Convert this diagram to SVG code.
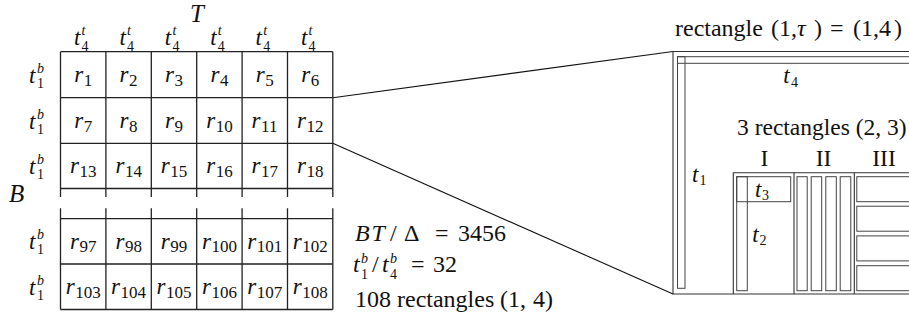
<svg xmlns="http://www.w3.org/2000/svg" width="909" height="320" viewBox="0 0 909 320" font-family="Liberation Serif, serif">
<style>
.f{font-family:"Liberation Serif",serif;fill:#111}
.i{font-style:italic}
.m{font-size:23px}
.s{font-size:14px}
.k{font-size:17px}
.L{font-size:24px}
.c{text-anchor:middle}
.g{fill:none;stroke:#222;stroke-width:1.3}
.p{fill:none;stroke:#333;stroke-width:1.1}
.q{fill:none;stroke:#444;stroke-width:1}
.ln{fill:none;stroke:#111;stroke-width:1.1}
</style>
<rect width="909" height="320" fill="#fff"/>

<g id="grid">
<path class="g" d="M60.5 51.7H332.8M60.5 97.7H332.8M60.5 143.3H332.8M60.5 188.5H332.8M60.5 218.7H332.8M60.5 264H332.8M60.5 309.5H332.8"/>
<path class="g" d="M60.5 51.7V197M105.9 51.7V197M151.3 51.7V197M196.7 51.7V197M242.1 51.7V197M287.5 51.7V197M332.8 51.7V197"/>
<path class="g" d="M60.5 208.3V309.5M105.9 208.3V309.5M151.3 208.3V309.5M196.7 208.3V309.5M242.1 208.3V309.5M287.5 208.3V309.5M332.8 208.3V309.5"/>
<text class="f i" x="190" y="21.5" font-size="25">T</text>
<text class="f i" x="9" y="202" font-size="25">B</text>
<g id="col-labels">
<text class="f i m" x="74" y="45">t</text><text class="f s" x="81.6" y="51">4</text><text class="f i s" x="81.6" y="35">t</text>
<text class="f i m" x="119.4" y="45">t</text><text class="f s" x="127" y="51">4</text><text class="f i s" x="127" y="35">t</text>
<text class="f i m" x="164.8" y="45">t</text><text class="f s" x="172.4" y="51">4</text><text class="f i s" x="172.4" y="35">t</text>
<text class="f i m" x="210.2" y="45">t</text><text class="f s" x="217.8" y="51">4</text><text class="f i s" x="217.8" y="35">t</text>
<text class="f i m" x="255.6" y="45">t</text><text class="f s" x="263.2" y="51">4</text><text class="f i s" x="263.2" y="35">t</text>
<text class="f i m" x="301" y="45">t</text><text class="f s" x="308.6" y="51">4</text><text class="f i s" x="308.6" y="35">t</text>
</g>
<g id="row-labels">
<text class="f i m" x="29" y="82.7">t</text><text class="f s" x="37" y="87.7">1</text><text class="f i s" x="37" y="72.7">b</text>
<text class="f i m" x="29" y="128.5">t</text><text class="f s" x="37" y="133.5">1</text><text class="f i s" x="37" y="118.5">b</text>
<text class="f i m" x="29" y="173.9">t</text><text class="f s" x="37" y="178.9">1</text><text class="f i s" x="37" y="163.9">b</text>
<text class="f i m" x="29" y="249.3">t</text><text class="f s" x="37" y="254.3">1</text><text class="f i s" x="37" y="239.3">b</text>
<text class="f i m" x="29" y="294.7">t</text><text class="f s" x="37" y="299.7">1</text><text class="f i s" x="37" y="284.7">b</text>
</g>
<g id="cells">
<text class="f i m" x="74.2" y="82.2">r</text><text class="f k" x="83.7" y="85.7">1</text>
<text class="f i m" x="119.6" y="82.2">r</text><text class="f k" x="129.1" y="85.7">2</text>
<text class="f i m" x="165" y="82.2">r</text><text class="f k" x="174.5" y="85.7">3</text>
<text class="f i m" x="210.4" y="82.2">r</text><text class="f k" x="219.9" y="85.7">4</text>
<text class="f i m" x="255.8" y="82.2">r</text><text class="f k" x="265.3" y="85.7">5</text>
<text class="f i m" x="301.2" y="82.2">r</text><text class="f k" x="310.7" y="85.7">6</text>
<text class="f i m" x="74.2" y="128">r</text><text class="f k" x="83.7" y="131.5">7</text>
<text class="f i m" x="119.6" y="128">r</text><text class="f k" x="129.1" y="131.5">8</text>
<text class="f i m" x="165" y="128">r</text><text class="f k" x="174.5" y="131.5">9</text>
<text class="f i m" x="206.2" y="128">r</text><text class="f k" x="215.7" y="131.5">10</text>
<text class="f i m" x="251.6" y="128">r</text><text class="f k" x="261.1" y="131.5">11</text>
<text class="f i m" x="297" y="128">r</text><text class="f k" x="306.5" y="131.5">12</text>
<text class="f i m" x="70" y="173.4">r</text><text class="f k" x="79.5" y="176.9">13</text>
<text class="f i m" x="115.4" y="173.4">r</text><text class="f k" x="124.9" y="176.9">14</text>
<text class="f i m" x="160.8" y="173.4">r</text><text class="f k" x="170.3" y="176.9">15</text>
<text class="f i m" x="206.2" y="173.4">r</text><text class="f k" x="215.7" y="176.9">16</text>
<text class="f i m" x="251.6" y="173.4">r</text><text class="f k" x="261.1" y="176.9">17</text>
<text class="f i m" x="297" y="173.4">r</text><text class="f k" x="306.5" y="176.9">18</text>
<text class="f i m" x="70" y="248.8">r</text><text class="f k" x="79.5" y="252.3">97</text>
<text class="f i m" x="115.4" y="248.8">r</text><text class="f k" x="124.9" y="252.3">98</text>
<text class="f i m" x="160.8" y="248.8">r</text><text class="f k" x="170.3" y="252.3">99</text>
<text class="f i m" x="201.9" y="248.8">r</text><text class="f k" x="211.4" y="252.3">100</text>
<text class="f i m" x="247.3" y="248.8">r</text><text class="f k" x="256.8" y="252.3">101</text>
<text class="f i m" x="292.7" y="248.8">r</text><text class="f k" x="302.2" y="252.3">102</text>
<text class="f i m" x="65.7" y="294.2">r</text><text class="f k" x="75.2" y="297.7">103</text>
<text class="f i m" x="111.1" y="294.2">r</text><text class="f k" x="120.6" y="297.7">104</text>
<text class="f i m" x="156.5" y="294.2">r</text><text class="f k" x="166" y="297.7">105</text>
<text class="f i m" x="201.9" y="294.2">r</text><text class="f k" x="211.4" y="297.7">106</text>
<text class="f i m" x="247.3" y="294.2">r</text><text class="f k" x="256.8" y="297.7">107</text>
<text class="f i m" x="292.7" y="294.2">r</text><text class="f k" x="302.2" y="297.7">108</text>
</g>
</g>

<g id="summary">
<text class="f i L" x="355" y="240.5">B</text>
<text class="f i L" x="371.5" y="240.5">T</text>
<text class="f L" x="390" y="240.5">/</text>
<text class="f L" x="404" y="240.5">Δ</text>
<text class="f L" x="435" y="240.5">=</text>
<text class="f L" x="458" y="240.5">3456</text>
<text class="f i L" x="353" y="272">t</text><text class="f s" x="361" y="278.5">1</text><text class="f i s" x="361" y="262.5">b</text>
<text class="f L" x="372" y="272">/</text>
<text class="f i L" x="382" y="272">t</text><text class="f s" x="390" y="278.5">4</text><text class="f i s" x="390" y="262.5">b</text>
<text class="f L" x="411" y="272">=</text>
<text class="f L" x="433" y="272">32</text>
<text class="f L" x="355" y="307">108 rectangles</text>
<text class="f L" x="500" y="307">(1,</text>
<text class="f L" x="533" y="307">4)</text>
</g>

<g id="connectors">
<path class="ln" d="M332.8 97.7L673 51.5"/>
<path class="ln" d="M332.8 143.3L673 294"/>
</g>

<g id="rectangle-1-4">
<path class="p" d="M915 51.5H673V294H915"/>
<rect class="q" x="677.5" y="56.7" width="240" height="6.6"/>
<rect class="q" x="677.5" y="56.7" width="7.5" height="231.6"/>
<text class="f L" x="675" y="35.5">rectangle</text>
<text class="f L" x="771" y="35.5">(1,</text>
<text class="f i L" x="797" y="35.5">τ</text>
<text class="f L" x="814" y="35.5">)</text>
<text class="f L" x="830" y="35.5">=</text>
<text class="f L" x="853" y="35.5">(1,</text>
<text class="f L" x="879" y="35.5">4</text>
<text class="f L" x="894" y="35.5">)</text>
<text class="f i m" x="783.3" y="83.3">t</text><text class="f s" x="791" y="86.5">4</text>
<text class="f i m" x="692" y="181.7">t</text><text class="f s" x="699.5" y="185">1</text>
<text class="f" font-size="23.5" x="737" y="135">3 rectangles (2, 3)</text>
<text class="f c" font-size="23.5" x="764.3" y="166">I</text>
<text class="f c" font-size="23.5" x="823.5" y="166">II</text>
<text class="f c" font-size="23.5" x="884" y="166">III</text>
<g id="box-I">
<path class="p" d="M733.3 294V172.7H794V294"/>
<rect class="q" x="736.7" y="176.7" width="10.6" height="114"/>
<rect class="q" x="736.7" y="176.7" width="54" height="25"/>
<text class="f i m" x="755" y="196.7">t</text><text class="f s" x="762" y="200">3</text>
<text class="f i m" x="752.3" y="241.7">t</text><text class="f s" x="759.5" y="245">2</text>
</g>
<g id="box-II">
<path class="p" d="M794 172.7H854.3V294"/>
<rect class="q" x="797" y="176.7" width="10.2" height="114"/>
<rect class="q" x="811.2" y="176.7" width="10.5" height="114"/>
<rect class="q" x="825.8" y="176.7" width="10.5" height="114"/>
<rect class="q" x="840.2" y="176.7" width="10.6" height="114"/>
</g>
<g id="box-III">
<path class="p" d="M854.3 172.7H915"/>
<rect class="q" x="856.8" y="176.7" width="70" height="25"/>
<rect class="q" x="856.8" y="206.2" width="70" height="25"/>
<rect class="q" x="856.8" y="235.9" width="70" height="25"/>
<rect class="q" x="856.8" y="265.7" width="70" height="25"/>
</g>
</g>
</svg>
